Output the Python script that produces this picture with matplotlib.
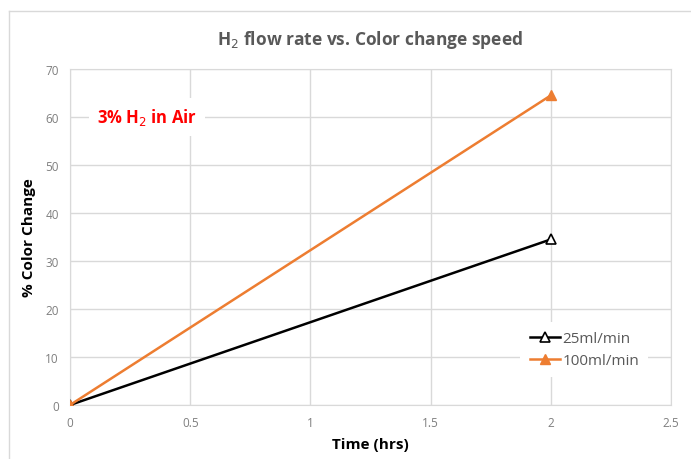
import matplotlib
matplotlib.use('Agg')
import matplotlib.pyplot as plt
from matplotlib.lines import Line2D

plt.rcParams['font.family'] = ['Open Sans', 'DejaVu Sans']

time_hrs = [0, 2]
flow_25 = [0, 34.5]
flow_100 = [0, 64.5]
series_labels = ['25ml/min', '100ml/min']
x_ticks = [0, 0.5, 1, 1.5, 2, 2.5]
x_tick_labels = ['0', '0.5', '1', '1.5', '2', '2.5']
y_ticks = [0, 10, 20, 30, 40, 50, 60, 70]

fig = plt.figure(figsize=(6.91, 4.60), dpi=100)
ax = fig.add_axes([70 / 691, 54 / 460, 601 / 691, 336 / 460])

grid_c = '#d9d9d9'
text_c = '#595959'

ax.plot(time_hrs, flow_25, color='black', lw=1.8, marker='^', ms=7,
        mfc='white', mec='black', mew=1.2, label=series_labels[0], zorder=4)
ax.plot(time_hrs, flow_100, color='#ed7d31', lw=1.8, marker='^', ms=7,
        mfc='#ed7d31', mec='#ed7d31', label=series_labels[1], zorder=4)

ax.set_xlim(0, 2.5)
ax.set_ylim(0, 70)
ax.set_xticks(x_ticks)
ax.set_xticklabels(x_tick_labels)
ax.set_yticks(y_ticks)
ax.grid(True, color=grid_c, lw=1)
ax.set_axisbelow(True)
for s in ax.spines.values():
    s.set_color(grid_c)
ax.tick_params(length=0, colors=text_c, labelsize=8.5, pad=8)
for lbl in ax.get_xticklabels() + ax.get_yticklabels():
    lbl.set_color('#7f7f7f')

ax.set_xlabel('Time (hrs)', fontsize=11, fontweight='bold', labelpad=6)
ax.set_ylabel('% Color Change', fontsize=11, fontweight='bold', labelpad=7)
ax.set_title('H$_2$ flow rate vs. Color change speed', fontsize=12.5,
             color=text_c, fontweight='bold', pad=18)

ax.text(0.32, 60, '3% H$_2$ in Air', color='red', fontsize=12,
        fontweight='bold', ha='center', va='center',
        bbox=dict(facecolor='white', edgecolor='none', pad=6), zorder=5)

leg = ax.legend(loc='lower right', bbox_to_anchor=(0.975, 0.06),
                frameon=True, fontsize=11, handlelength=2.0,
                handletextpad=0.15, borderpad=0.6, labelspacing=0.45)
leg.get_frame().set_edgecolor('none')
leg.get_frame().set_facecolor('white')
leg.get_frame().set_alpha(1)
for t in leg.get_texts():
    t.set_color(text_c)

fig.add_artist(Line2D([9 / 691, 9 / 691], [0, 1 - 12 / 460],
                      transform=fig.transFigure, color=grid_c, lw=1))
fig.add_artist(Line2D([9 / 691, 1], [1 - 12 / 460, 1 - 12 / 460],
                      transform=fig.transFigure, color=grid_c, lw=1))

fig.savefig('out.png', dpi=100)
